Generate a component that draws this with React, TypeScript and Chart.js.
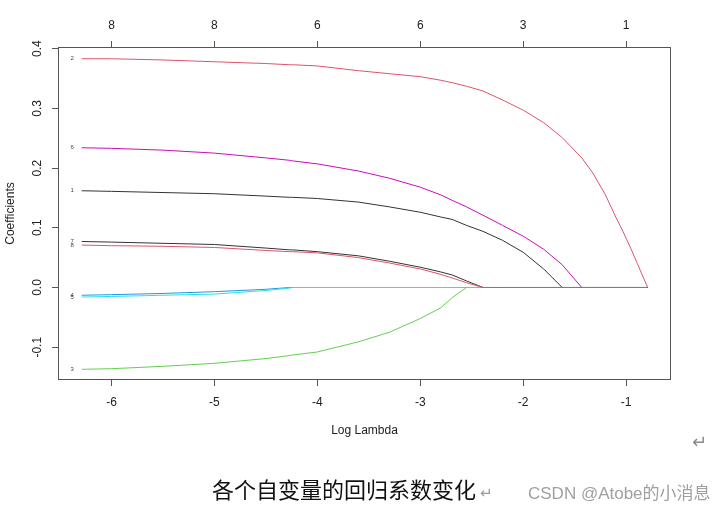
import React, { useEffect, useRef } from "react";
import { Chart, registerables } from "chart.js";

Chart.register(...registerables);

// log(lambda) grid shared by all coefficient paths
const logLambda = [-6.29, -6.0, -5.5, -5.0, -4.5, -4.27, -4.24, -4.0, -3.6, -3.3, -3.0, -2.8, -2.69, -2.55, -2.39, -2.2, -2.0, -1.8, -1.62, -1.43, -1.32, -1.2, -1.1, -1.03, -0.95, -0.89, -0.79];

const coef1 = [0.162, 0.161, 0.159, 0.157, 0.153, 0.151, 0.151, 0.149, 0.143, 0.135, 0.126, 0.118, 0.114, 0.104, 0.094, 0.079, 0.059, 0.031, 0, 0, 0, 0, 0, 0, 0, 0, 0];
const coef2 = [0.383, 0.383, 0.381, 0.378, 0.375, 0.373, 0.373, 0.371, 0.363, 0.358, 0.353, 0.347, 0.343, 0.337, 0.329, 0.314, 0.297, 0.276, 0.251, 0.217, 0.191, 0.155, 0.118, 0.094, 0.064, 0.04, 0];
const coef3 = [-0.137, -0.136, -0.132, -0.127, -0.119, -0.114, -0.113, -0.108, -0.091, -0.075, -0.052, -0.034, -0.017, 0, 0, 0, 0, 0, 0, 0, 0, 0, 0, 0, 0, 0, 0];
const coef4 = [-0.013, -0.012, -0.01, -0.007, -0.003, 0, 0, 0, 0, 0, 0, 0, 0, 0, 0, 0, 0, 0, 0, 0, 0, 0, 0, 0, 0, 0, 0];
const coef5 = [-0.016, -0.015, -0.013, -0.011, -0.005, -0.001, 0, 0, 0, 0, 0, 0, 0, 0, 0, 0, 0, 0, 0, 0, 0, 0, 0, 0, 0, 0, 0];
const coef6 = [0.234, 0.233, 0.23, 0.225, 0.217, 0.213, 0.212, 0.207, 0.195, 0.183, 0.168, 0.155, 0.146, 0.135, 0.121, 0.104, 0.086, 0.064, 0.038, 0, 0, 0, 0, 0, 0, 0, 0];
const coef7 = [0.077, 0.076, 0.074, 0.072, 0.066, 0.063, 0.063, 0.06, 0.053, 0.044, 0.034, 0.026, 0.021, 0.011, 0, 0, 0, 0, 0, 0, 0, 0, 0, 0, 0, 0, 0];
const coef8 = [0.071, 0.07, 0.069, 0.067, 0.062, 0.06, 0.06, 0.058, 0.05, 0.041, 0.031, 0.022, 0.016, 0.008, 0, 0, 0, 0, 0, 0, 0, 0, 0, 0, 0, 0, 0];

const varLabels = ["1", "2", "3", "4", "5", "6", "7", "8"];
const varColors = ["#333333", "#DF536B", "#61D04F", "#2297E6", "#28E2E5", "#CD0BBC", "#333333", "#DF536B"];
const allCoefs = [coef1, coef2, coef3, coef4, coef5, coef6, coef7, coef8];

const xTickValues = [-6, -5, -4, -3, -2, -1];
const dfLabels = ["8", "8", "6", "6", "3", "1"];
const yTickValues = [-0.1, 0.0, 0.1, 0.2, 0.3, 0.4];

const X_MIN = -6.52;
const X_MAX = -0.563;
const Y_MIN = -0.1549;
const Y_MAX = 0.4027;

const FONT = "'Liberation Sans', Arial, sans-serif";
const AXIS_COLOR = "#555555";
const TEXT_COLOR = "#222222";

const framePlugin = {
  id: "frameAndLabels",
  afterDatasetsDraw(chart: any) {
    const { ctx, chartArea, scales } = chart;
    ctx.save();
    // small variable labels at the start of each path
    ctx.font = `6px ${FONT}`;
    ctx.fillStyle = "#444444";
    ctx.textAlign = "center";
    ctx.textBaseline = "middle";
    allCoefs.forEach((c, i) => {
      const x = scales.x.getPixelForValue(logLambda[0]) - 9.5;
      const y = scales.y.getPixelForValue(c[0]);
      ctx.fillText(varLabels[i], x, y);
    });
    // plot frame
    ctx.strokeStyle = AXIS_COLOR;
    ctx.lineWidth = 1;
    ctx.strokeRect(
      Math.round(chartArea.left) + 0.5,
      Math.round(chartArea.top) + 0.5,
      Math.round(chartArea.right - chartArea.left) - 1,
      Math.round(chartArea.bottom - chartArea.top) - 1
    );
    ctx.restore();
  },
};

export default function App() {
  const canvasRef = useRef<HTMLCanvasElement | null>(null);

  useEffect(() => {
    if (!canvasRef.current) return;
    // R draws variable 1 first and variable 8 last (on top); Chart.js puts the
    // first dataset on top, so list them in reverse.
    const datasets = allCoefs
      .map((c, i) => ({
        label: varLabels[i],
        data: logLambda.map((x, j) => ({ x, y: c[j] })),
        borderColor: varColors[i],
        backgroundColor: varColors[i],
        borderWidth: 1,
        pointRadius: 0,
        tension: 0,
        fill: false,
      }))
      .reverse();

    const tickFont = { family: FONT, size: 12 };
    const gridOpts = {
      drawOnChartArea: false,
      drawTicks: true,
      tickLength: 6,
      color: AXIS_COLOR,
      lineWidth: 1,
    };

    const chart = new Chart(canvasRef.current, {
      type: "line",
      data: { datasets },
      options: {
        animation: false,
        responsive: false,
        maintainAspectRatio: false,
        devicePixelRatio: 1,
        layout: { padding: { left: 0, top: 0, right: 55, bottom: 76 } },
        plugins: {
          legend: { display: false },
          tooltip: { enabled: false },
          title: { display: false },
        },
        scales: {
          x: {
            type: "linear",
            position: "bottom",
            min: X_MIN,
            max: X_MAX,
            afterBuildTicks: (s: any) => {
              s.ticks = xTickValues.map((v) => ({ value: v }));
            },
            afterFit: (s: any) => {
              s.height = 58;
            },
            ticks: {
              font: tickFont,
              color: TEXT_COLOR,
              padding: 9,
              maxRotation: 0,
              minRotation: 0,
              autoSkip: false,
              callback: (v: any) => String(v),
            },
            grid: gridOpts,
            border: { display: false },
            title: {
              display: true,
              text: "Log Lambda",
              font: { family: FONT, size: 12 },
              color: TEXT_COLOR,
              padding: { top: 0, bottom: 0 },
            },
          },
          x2: {
            type: "linear",
            position: "top",
            min: X_MIN,
            max: X_MAX,
            afterBuildTicks: (s: any) => {
              s.ticks = xTickValues.map((v) => ({ value: v }));
            },
            afterFit: (s: any) => {
              s.height = 47;
            },
            ticks: {
              font: tickFont,
              color: TEXT_COLOR,
              padding: 8,
              maxRotation: 0,
              minRotation: 0,
              autoSkip: false,
              callback: (v: any) => {
                const k = xTickValues.indexOf(Math.round(v));
                return k >= 0 ? dfLabels[k] : "";
              },
            },
            grid: gridOpts,
            border: { display: false },
          },
          y: {
            type: "linear",
            position: "left",
            min: Y_MIN,
            max: Y_MAX,
            afterBuildTicks: (s: any) => {
              s.ticks = yTickValues.map((v) => ({ value: v }));
            },
            afterFit: (s: any) => {
              s.width = 58;
            },
            ticks: {
              font: tickFont,
              color: TEXT_COLOR,
              padding: 3.5,
              minRotation: 90,
              maxRotation: 90,
              crossAlign: "center",
              autoSkip: false,
              callback: (v: any) => Number(v).toFixed(1),
            },
            grid: gridOpts,
            border: { display: false },
            title: {
              display: true,
              text: "Coefficients",
              font: { family: FONT, size: 12 },
              color: TEXT_COLOR,
              padding: { top: 3, bottom: 0 },
            },
          },
        },
      } as any,
      plugins: [framePlugin],
    });
    return () => chart.destroy();
  }, []);

  return (
    <div
      style={{
        position: "fixed",
        left: 0,
        top: 0,
        width: 726,
        height: 514,
        background: "#ffffff",
        overflow: "hidden",
      }}
    >
      <canvas ref={canvasRef} width={726} height={514} style={{ display: "block", width: 726, height: 514 }} />
      <div
        style={{
          position: "absolute",
          left: 692,
          top: 432,
          fontSize: 18,
          lineHeight: "20px",
          color: "#8a8a8a",
          fontFamily: "'DejaVu Sans', sans-serif",
        }}
      >
        ↵
      </div>
      <div
        style={{
          position: "absolute",
          left: 212,
          top: 476,
          fontSize: 22,
          lineHeight: "24px",
          color: "#111111",
          fontFamily: "'Noto Sans CJK SC', sans-serif",
          whiteSpace: "nowrap",
        }}
      >
        各个自变量的回归系数变化
        <span style={{ fontSize: 15, color: "#9a9a9a", fontFamily: "'DejaVu Sans', sans-serif", marginLeft: 4 }}>↵</span>
      </div>
      <div
        style={{
          position: "absolute",
          left: 528,
          top: 484,
          fontSize: 17,
          lineHeight: "20px",
          color: "#a0a0a0",
          fontFamily: "'Liberation Sans', 'Noto Sans CJK SC', sans-serif",
          whiteSpace: "nowrap",
        }}
      >
        CSDN @Atobe的小消息
      </div>
    </div>
  );
}
